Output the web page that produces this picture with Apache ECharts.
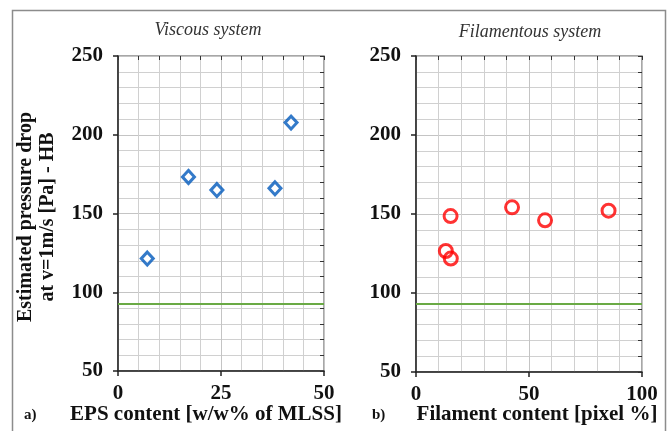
<!DOCTYPE html>
<html>
<head>
<meta charset="utf-8">
<script src="https://cdn.jsdelivr.net/npm/echarts@6/dist/echarts.min.js"></script>
<style>
  html, body { margin: 0; padding: 0; background: #fff; }
  #chart { width: 670px; height: 431px; }
</style>
</head>
<body>
<div id="chart"></div>
<script>
// viscous system: EPS content vs pressure drop
const epsX = [7.1, 17.1, 24.0, 38.1, 42.0]
const epsY = [121.4, 173.2, 164.9, 166.0, 207.7]
// filamentous system: filament content vs pressure drop
const filX = [15.3, 13.2, 15.4, 42.5, 57.1, 85.2]
const filY = [148.7, 126.6, 121.8, 154.2, 146.0, 152.1]
// reference pressure drop (green line)
const baseLine = 93

const serif = 'Liberation Serif'
let chart = echarts.init(document.getElementById('chart'))

function mainX (gridIndex, max, interval) {
  return {
    type: 'value', gridIndex: gridIndex, min: 0, max: max, interval: interval,
    axisLine: { show: true, onZero: false, lineStyle: { color: '#222', width: 1.5 } },
    axisTick: { show: true, length: 5, lineStyle: { color: '#222', width: 1.5 } },
    axisLabel: { color: '#111', fontFamily: serif, fontWeight: 'bold', fontSize: 21, margin: 12 },
    splitLine: { show: true, lineStyle: { color: '#c4c4c4', width: 1 } },
    minorTick: { show: false, splitNumber: 5 },
    minorSplitLine: { show: true, lineStyle: { color: '#d0d0d0', width: 1 } }
  }
}
function innerX (gridIndex, max, interval) {
  return {
    type: 'value', gridIndex: gridIndex, min: 0, max: max, interval: interval,
    axisLine: { show: false, onZero: false },
    axisTick: { show: true, inside: true, length: 4, lineStyle: { color: '#333', width: 1 } },
    axisLabel: { show: false }, splitLine: { show: false }
  }
}
function mainY (gridIndex) {
  return {
    type: 'value', gridIndex: gridIndex, min: 50, max: 250, interval: 50,
    axisLine: { show: true, onZero: false, lineStyle: { color: '#222', width: 1.5 } },
    axisTick: { show: true, length: 5, lineStyle: { color: '#222', width: 1.5 } },
    axisLabel: { color: '#111', fontFamily: serif, fontWeight: 'bold', fontSize: 21, margin: 15 },
    splitLine: { show: true, lineStyle: { color: '#c4c4c4', width: 1 } },
    minorTick: { show: false, splitNumber: 5 },
    minorSplitLine: { show: true, lineStyle: { color: '#d0d0d0', width: 1 } }
  }
}
function innerY (gridIndex) {
  return {
    type: 'value', gridIndex: gridIndex, min: 50, max: 250, interval: 10,
    axisLine: { show: false, onZero: false },
    axisTick: { show: true, inside: true, length: 4, lineStyle: { color: '#333', width: 1 } },
    axisLabel: { show: false }, splitLine: { show: false }
  }
}

let option = {
  backgroundColor: '#fff',
  animation: false,
  grid: [
    { left: 118, top: 56, width: 206, height: 315, show: true, borderColor: '#8a8a8a', borderWidth: 1.5, backgroundColor: 'transparent' },
    { left: 416, top: 56, width: 226, height: 316, show: true, borderColor: '#8a8a8a', borderWidth: 1.5, backgroundColor: 'transparent' }
  ],
  xAxis: [mainX(0, 50, 25), mainX(1, 100, 50), innerX(0, 50, 5), innerX(1, 100, 10)],
  yAxis: [mainY(0), mainY(1), innerY(0), innerY(1)],
  graphic: [
    { type: 'rect', shape: { x: 12.5, y: 10.5, width: 653, height: 440 }, style: { fill: 'none', stroke: '#8c8c8c', lineWidth: 1.5 }, silent: true },
    { type: 'text', x: 208, y: 30, style: { text: 'Viscous system', font: 'italic 18px "Liberation Serif"', fill: '#333', align: 'center', verticalAlign: 'middle' } },
    { type: 'text', x: 530, y: 32, style: { text: 'Filamentous system', font: 'italic 18px "Liberation Serif"', fill: '#333', align: 'center', verticalAlign: 'middle' } },
    { type: 'text', x: 24, y: 415, style: { text: 'a)', font: 'bold 15px "Liberation Serif"', fill: '#111', verticalAlign: 'middle' } },
    { type: 'text', x: 372, y: 415, style: { text: 'b)', font: 'bold 15px "Liberation Serif"', fill: '#111', verticalAlign: 'middle' } },
    { type: 'text', x: 206, y: 415, style: { text: 'EPS content [w/w% of MLSS]', font: 'bold 21px "Liberation Serif"', fill: '#111', align: 'center', verticalAlign: 'middle' } },
    { type: 'text', x: 537, y: 415, style: { text: 'Filament content [pixel %]', font: 'bold 21px "Liberation Serif"', fill: '#111', align: 'center', verticalAlign: 'middle' } },
    { type: 'text', x: 26, y: 217, rotation: Math.PI / 2, style: { text: 'Estimated pressure drop', font: 'bold 20px "Liberation Serif"', fill: '#111', align: 'center', verticalAlign: 'middle' } },
    { type: 'text', x: 48, y: 217, rotation: Math.PI / 2, style: { text: 'at v=1m/s [Pa] - HB', font: 'bold 20px "Liberation Serif"', fill: '#111', align: 'center', verticalAlign: 'middle' } }
  ],
  series: [
    {
      type: 'scatter', xAxisIndex: 0, yAxisIndex: 0,
      data: epsX.map((x, i) => [x, epsY[i]]),
      symbol: 'diamond', symbolSize: [12, 13],
      itemStyle: { color: '#fff', borderColor: '#0059bb', borderWidth: 3 },
      markLine: {
        silent: true, symbol: 'none', label: { show: false },
        lineStyle: { color: '#6aaa45', width: 2, type: 'solid' },
        data: [{ yAxis: baseLine }]
      }
    },
    {
      type: 'scatter', xAxisIndex: 1, yAxisIndex: 1,
      data: filX.map((x, i) => [x, filY[i]]),
      symbol: 'circle', symbolSize: 13,
      itemStyle: { color: 'rgba(255,255,255,0)', borderColor: '#ff0000', borderWidth: 3 },
      markLine: {
        silent: true, symbol: 'none', label: { show: false },
        lineStyle: { color: '#6aaa45', width: 2, type: 'solid' },
        data: [{ yAxis: baseLine }]
      }
    }
  ]
}
chart.setOption(option)
</script>
</body>
</html>
